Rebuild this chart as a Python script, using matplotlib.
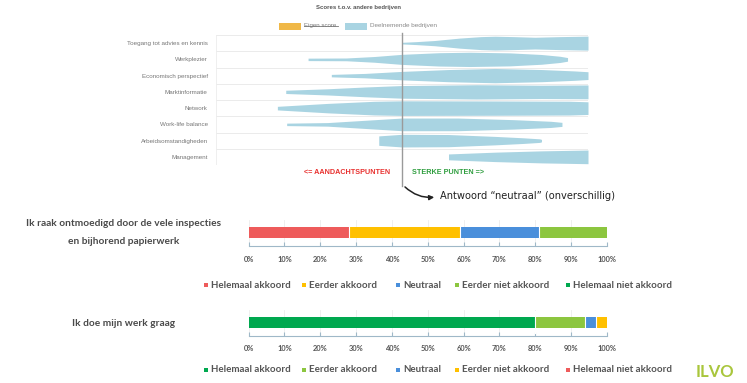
import matplotlib
matplotlib.use('Agg')
import matplotlib.pyplot as plt
from matplotlib.patches import Rectangle
import numpy as np

W, H = 747, 383

# ---- violin chart: scores vs other companies (-2 .. 2, 0 = neutral) ----
aspects = ['Toegang tot advies en kennis', 'Werkplezier', 'Economisch perspectief',
           'Marktinformatie', 'Network', 'Work-life balance',
           'Arbeidsomstandigheden', 'Management']

# score positions and relative density (0..1)
toegang_x = [0.0, 0.15, 0.35, 0.62, 0.85, 1.0, 1.2, 1.43, 1.7, 2.0]
toegang_d = [0.1, 0.18, 0.32, 0.62, 0.8, 0.85, 0.8, 0.72, 0.8, 0.86]
werkplezier_x = [-1.01, -0.6, -0.3, 0.0, 0.4, 0.73, 1.16, 1.5, 1.7, 1.78]
werkplezier_d = [0.15, 0.17, 0.35, 0.62, 0.82, 0.88, 0.8, 0.6, 0.38, 0.22]
economisch_x = [-0.76, -0.4, 0.0, 0.5, 1.0, 1.5, 1.85, 2.0]
economisch_d = [0.15, 0.27, 0.52, 0.75, 0.88, 0.75, 0.58, 0.48]
markt_x = [-1.25, -0.8, -0.4, 0.0, 0.8, 1.5, 2.0]
markt_d = [0.2, 0.38, 0.6, 0.78, 0.88, 0.82, 0.85]
network_x = [-1.34, -0.8, -0.3, 0.0, 1.0, 1.8, 2.0]
network_d = [0.22, 0.58, 0.84, 0.9, 0.88, 0.85, 0.78]
worklife_x = [-1.24, -0.8, -0.4, 0.0, 0.6, 1.2, 1.6, 1.72]
worklife_d = [0.15, 0.22, 0.5, 0.78, 0.78, 0.58, 0.38, 0.25]
arbeid_x = [-0.25, 0.0, 0.5, 1.0, 1.3, 1.48, 1.5]
arbeid_d = [0.58, 0.78, 0.75, 0.52, 0.35, 0.22, 0.15]
management_x = [0.5, 1.0, 1.5, 2.0]
management_d = [0.36, 0.58, 0.74, 0.84]

profiles = [(toegang_x, toegang_d), (werkplezier_x, werkplezier_d),
            (economisch_x, economisch_d), (markt_x, markt_d),
            (network_x, network_d), (worklife_x, worklife_d),
            (arbeid_x, arbeid_d), (management_x, management_d)]

# ---- stacked bars ----
answers = ['Helemaal akkoord', 'Eerder akkoord', 'Neutraal',
           'Eerder niet akkoord', 'Helemaal niet akkoord']
q1_label = ['Ik raak ontmoedigd door de vele inspecties', 'en bijhorend papierwerk']
q1_pct = [28, 31, 22, 19, 0]
q1_colors = ['#ee5b5b', '#ffc000', '#4a8fdb', '#8cc63f', '#00a84f']
q2_label = ['Ik doe mijn werk graag']
q2_pct = [80, 14, 3, 3, 0]
q2_colors = ['#00a84f', '#8cc63f', '#4a8fdb', '#ffc000', '#ee5b5b']
pct_ticks = list(range(0, 101, 10))

VIOLIN = '#a9d4e2'
ORANGE = '#f0b847'
TXT = '#4a4a4a'
BOLD = 'Lato'


def box(l, t, r, b):
    """pixel box -> figure fraction rect"""
    return [l / W, 1 - b / H, (r - l) / W, (b - t) / H]


fig = plt.figure(figsize=(W / 100, H / 100), dpi=100, facecolor='w')

# violin axes
axv = fig.add_axes(box(216, 35, 588, 165))
for i, (xs, ds) in enumerate(profiles):
    xs = np.array(xs)
    half = np.array(ds) * 0.5
    axv.fill_between(xs, i - half, i + half, color=VIOLIN, lw=0)
for k in range(len(aspects) + 1):
    axv.axhline(k - 0.5, color='#e8e8e8', lw=0.6, zorder=0)
axv.set_xlim(-2, 2)
axv.set_ylim(len(aspects) - 0.5, -0.5)
axv.set_xticks([])
axv.set_yticks(range(len(aspects)))
axv.set_yticklabels(aspects, fontsize=4.5, color='#777777', family='Liberation Sans')
axv.tick_params(axis='y', length=0, pad=6)
for s in axv.spines.values():
    s.set_visible(False)
axv.axvline(-2, color='#ececec', lw=0.6, zorder=0)

canvas_text = []


def stacked(top, question, pct, colors, label_y):
    ax = fig.add_axes(box(248.6, top, 607, top + 26))
    left = 0
    for p, c in zip(pct, colors):
        if p > 0:
            ax.barh(0, p, left=left, height=0.8, color=c, lw=0, zorder=2)
            if left + p < 100:
                ax.axvline(left + p, ymin=0.1, ymax=0.95, color='w', lw=0.8, zorder=3)
        left += p
    ax.set_xlim(0, 100)
    ax.set_ylim(-0.98, 0.91)
    ax.set_yticks([])
    ax.set_xticks(pct_ticks)
    ax.set_xticklabels(['%d%%' % t for t in pct_ticks], fontsize=5.4, color='#555555',
                       family=BOLD, fontweight='bold')
    ax.tick_params(axis='x', direction='in', length=3, color='#9fb8c8', pad=7)
    ax.grid(axis='x', color='#ececec', lw=0.6, zorder=0)
    for s in ['top', 'left', 'right']:
        ax.spines[s].set_visible(False)
    ax.spines['bottom'].set_color('#9fb8c8')
    ax.spines['bottom'].set_linewidth(0.8)
    for j, line in enumerate(question):
        canvas_text.append((124, label_y + j * 18, line))
    return ax


stacked(220, q1_label, q1_pct, q1_colors, 224)
stacked(309.5, q2_label, q2_pct, q2_colors, 323)

# overlay canvas in pixel coordinates for texts and annotations
ax0 = fig.add_axes([0, 0, 1, 1], facecolor='none')
ax0.set_xlim(0, W)
ax0.set_ylim(H, 0)
ax0.axis('off')

ax0.text(359, 7.5, 'Scores t.o.v. andere bedrijven', ha='center', va='center',
         fontsize=4.3, fontweight='bold', color='#555555', family='Liberation Sans')
ax0.add_patch(Rectangle((279, 22.5), 22, 7, color=ORANGE, lw=0))
ax0.text(304, 26, 'Eigen score', va='center', fontsize=4.4, color='#777777',
         family='Liberation Sans')
ax0.plot([304, 338], [26.2, 26.2], color='#777777', lw=0.6)
ax0.add_patch(Rectangle((345, 22.5), 22, 7, color=VIOLIN, lw=0))
ax0.text(370, 26, 'Deelnemende bedrijven', va='center', fontsize=4.6, color='#888888',
         family='Liberation Sans')

# neutral line and annotation
ax0.plot([402, 402], [33, 186], color='#9a9a9a', lw=1.0)
ax0.text(390, 172, '<= AANDACHTSPUNTEN', ha='right', va='center', fontsize=5.2,
         fontweight='bold', color='#e8302e', family='Liberation Sans')
ax0.text(412, 172, 'STERKE PUNTEN =>', ha='left', va='center', fontsize=5.2,
         fontweight='bold', color='#2f9e3f', family='Liberation Sans')
ax0.annotate('', xy=(437, 197), xytext=(403, 185),
             arrowprops=dict(arrowstyle='-|>', color='#222222', lw=1.1,
                             mutation_scale=7, connectionstyle='arc3,rad=0.25'))
ax0.text(440, 196, 'Antwoord \u201cneutraal\u201d (onverschillig)', va='center',
         fontsize=7.1, color='#222222', family='DejaVu Sans')

for x, y, s in canvas_text:
    ax0.text(x, y, s, ha='center', va='center', fontsize=7.3, fontweight='bold',
             color=TXT, family=BOLD)

# legends
marker_x = [206, 304, 398, 457, 568]
for ly, colors in [(285, q1_colors), (370, q2_colors)]:
    for mx, c, lab in zip(marker_x, colors, answers):
        ax0.add_patch(Rectangle((mx - 2, ly - 2), 4, 4, color=c, lw=0))
        ax0.text(mx + 5, ly, lab, va='center', fontsize=7.0, fontweight='bold',
                 color='#555555', family=BOLD)

ax0.text(715, 372, 'ILVO', ha='center', va='center', fontsize=12, fontweight='bold',
         color='#a9c63c', family=BOLD)

fig.savefig('out.png', dpi=100, facecolor='w')
